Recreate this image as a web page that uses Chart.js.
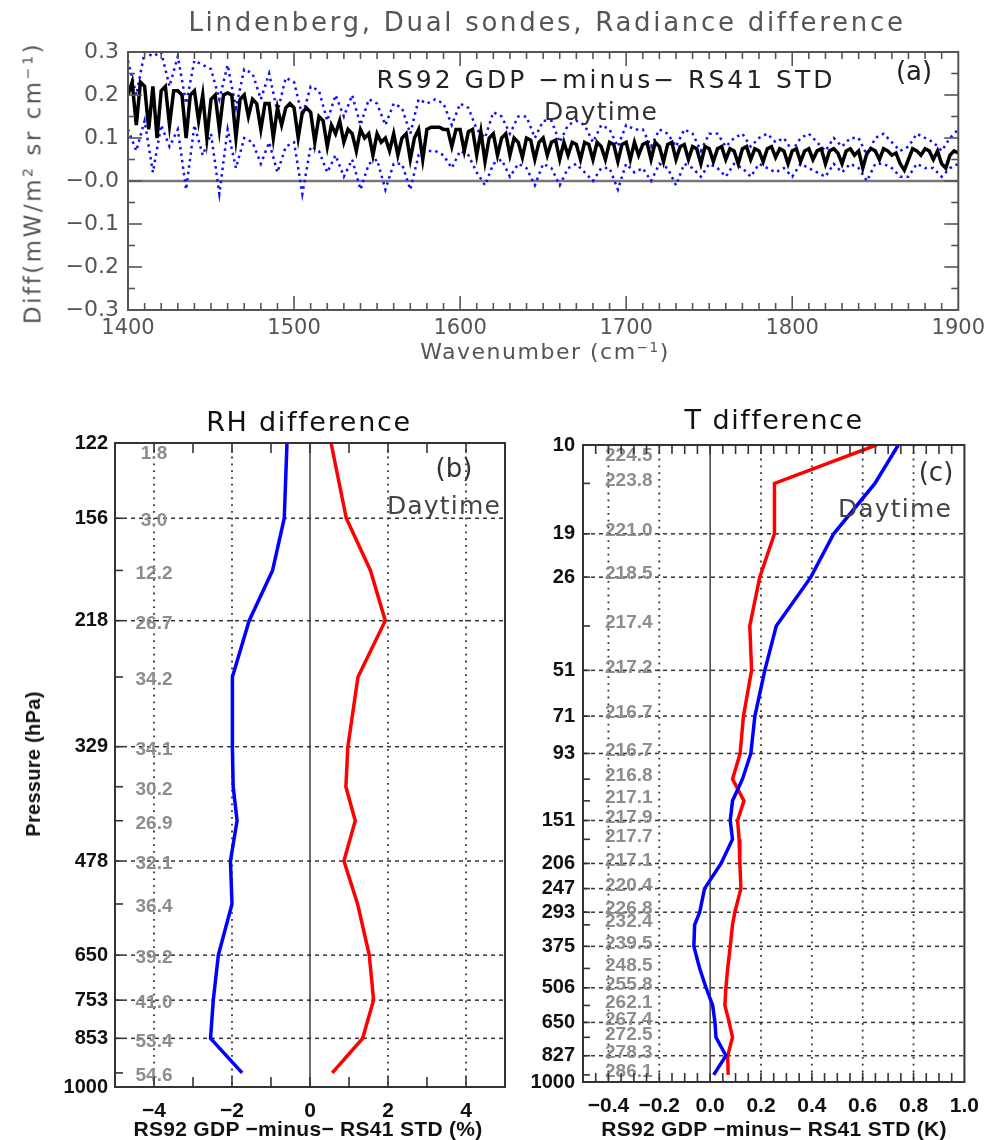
<!DOCTYPE html>
<html>
<head>
<meta charset="utf-8">
<script src="https://cdn.jsdelivr.net/npm/chart.js@4.4.1/dist/chart.umd.min.js"></script>
<style>
html,body{margin:0;padding:0;background:#fff;}
body{width:991px;height:1140px;position:relative;overflow:hidden;font-family:'DejaVu Sans',sans-serif;}
.box{position:absolute;}
.t{position:absolute;white-space:nowrap;transform:translate(-50%,-50%);line-height:1;}
.r{transform:translate(-50%,-50%) rotate(-90deg);}
.h{font-family:'DejaVu Sans',sans-serif;font-weight:normal;}
.b{font-family:'Liberation Sans',Arial,sans-serif;font-weight:bold;color:#111;}
sup{font-size:62%;vertical-align:0.55em;line-height:0;}
</style>
</head>
<body>
<div class="box" style="left:0;top:0;width:991px;height:370px"><canvas id="cA"></canvas></div>
<div class="box" style="left:0;top:380px;width:530px;height:760px"><canvas id="cB"></canvas></div>
<div class="box" style="left:530px;top:380px;width:461px;height:760px"><canvas id="cC"></canvas></div>

<div class="t h" style="left:547px;top:22px;font-size:26px;color:#555;letter-spacing:2.7px">Lindenberg, Dual sondes, Radiance difference</div>
<div class="t h" style="left:606px;top:79px;font-size:25px;color:#222;letter-spacing:3px">RS92 GDP &minus;minus&minus; RS41 STD</div>
<div class="t h" style="left:914px;top:71px;font-size:26px;color:#222">(a)</div>
<div class="t h" style="left:601px;top:111px;font-size:25px;color:#333;letter-spacing:1.2px">Daytime</div>
<div class="t h r" style="left:33px;top:183px;font-size:23px;color:#555;letter-spacing:2.5px">Diff(mW/m<sup>2</sup> sr cm<sup>&minus;1</sup>)</div>
<div class="t h" style="left:545px;top:352px;font-size:22px;color:#555;letter-spacing:1.5px">Wavenumber (cm<sup>&minus;1</sup>)</div>

<div class="t h" style="left:309px;top:421px;font-size:27px;color:#111;letter-spacing:1.7px">RH difference</div>
<div class="t h" style="left:454px;top:468px;font-size:26px;color:#333">(b)</div>
<div class="t h" style="left:444px;top:505px;font-size:25px;color:#444;letter-spacing:1.2px">Daytime</div>
<div class="t b r" style="left:33px;top:764px;font-size:20px;letter-spacing:0.3px">Pressure (hPa)</div>
<div class="t b" style="left:308px;top:1128px;font-size:21px;letter-spacing:0.3px">RS92 GDP &minus;minus&minus; RS41 STD (%)</div>

<div class="t h" style="left:774px;top:419px;font-size:27px;color:#111;letter-spacing:1.5px">T difference</div>
<div class="t h" style="left:936px;top:472px;font-size:26px;color:#333">(c)</div>
<div class="t h" style="left:895px;top:508px;font-size:25px;color:#444;letter-spacing:1.2px">Daytime</div>
<div class="t b" style="left:774px;top:1128px;font-size:21px;letter-spacing:0.3px">RS92 GDP &minus;minus&minus; RS41 STD (K)</div>

<script>
// ---------------- DATA ----------------
function seq(start, step, count){ const a=[]; for(let i=0;i<count;i++) a.push(+(start+step*i).toFixed(3)); return a; }

// Panel (a): wavenumber grids (cm-1)
const waveMean = seq(1400, 2.5, 201);
const waveStd = seq(1400, 5, 101);
// mean radiance difference (black)
const radMean = [
0.20,0.23,0.13,0.23,0.22,0.12,0.22,0.10,0.21,0.22,
0.13,0.21,0.21,0.20,0.10,0.20,0.21,0.14,0.20,0.10,
0.19,0.20,0.12,0.20,0.205,0.20,0.10,0.19,0.20,0.15,
0.19,0.18,0.12,0.18,0.18,0.10,0.17,0.13,0.17,0.18,
0.17,0.10,0.16,0.17,0.16,0.09,0.15,0.14,0.08,0.13,
0.11,0.14,0.09,0.12,0.11,0.07,0.12,0.10,0.11,0.06,
0.11,0.09,0.10,0.07,0.11,0.06,0.10,0.11,0.05,0.10,
0.12,0.05,0.12,0.125,0.125,0.125,0.12,0.12,0.08,0.12,
0.12,0.07,0.115,0.12,0.06,0.115,0.045,0.10,0.11,0.06,
0.10,0.11,0.06,0.10,0.09,0.055,0.10,0.095,0.05,0.09,
0.10,0.06,0.09,0.095,0.05,0.09,0.06,0.09,0.085,0.05,
0.09,0.085,0.05,0.09,0.08,0.05,0.09,0.085,0.045,0.085,
0.09,0.05,0.09,0.06,0.085,0.09,0.05,0.09,0.08,0.045,
0.085,0.09,0.05,0.08,0.085,0.05,0.08,0.075,0.04,0.08,
0.075,0.045,0.075,0.08,0.05,0.075,0.07,0.04,0.075,0.08,
0.05,0.075,0.07,0.045,0.075,0.08,0.055,0.075,0.07,0.04,
0.07,0.075,0.045,0.07,0.075,0.05,0.07,0.075,0.04,0.07,
0.075,0.065,0.04,0.07,0.075,0.06,0.07,0.03,0.065,0.075,
0.07,0.05,0.075,0.07,0.06,0.065,0.04,0.025,0.05,0.075,
0.07,0.06,0.075,0.07,0.05,0.07,0.04,0.03,0.06,0.07,
0.065];
// mean + std (blue dotted, upper)
const radUpper = [
0.28,0.20,0.30,0.29,0.30,0.22,0.29,0.18,0.28,0.27,
0.26,0.19,0.27,0.17,0.26,0.25,0.19,0.25,0.16,0.24,
0.23,0.15,0.22,0.21,0.14,0.20,0.15,0.20,0.13,0.19,
0.18,0.13,0.18,0.17,0.11,0.19,0.18,0.19,0.18,0.13,
0.18,0.17,0.12,0.10,0.16,0.15,0.11,0.15,0.15,0.10,
0.14,0.14,0.09,0.13,0.14,0.13,0.09,0.13,0.12,0.08,
0.13,0.12,0.12,0.08,0.12,0.11,0.08,0.12,0.11,0.07,
0.11,0.11,0.08,0.10,0.11,0.08,0.10,0.11,0.09,0.10,
0.07,0.10,0.11,0.09,0.07,0.10,0.08,0.10,0.10,0.06,
0.10,0.11,0.09,0.07,0.08,0.11,0.10,0.09,0.07,0.10,
0.12];
// mean - std (blue dotted, lower)
const radLower = [
0.12,0.07,0.14,0.02,0.13,0.08,0.12,-0.02,0.13,0.06,
0.11,-0.03,0.12,0.03,0.10,0.09,0.04,0.09,0.02,0.08,
0.09,-0.03,0.08,0.07,0.02,0.06,0.01,0.05,-0.02,0.04,
0.05,-0.02,0.04,0.04,-0.02,0.06,0.07,0.07,0.06,0.03,
0.07,0.06,0.02,-0.01,0.04,0.05,0.01,0.04,0.03,-0.01,
0.04,0.03,-0.01,0.03,0.04,0.02,0.00,0.03,0.03,-0.02,
0.04,0.02,0.03,0.00,0.04,0.03,-0.01,0.04,0.03,0.01,
0.04,0.03,0.01,0.04,0.03,0.01,0.04,0.03,0.02,0.03,
0.01,0.04,0.03,0.02,0.01,0.04,0.02,0.04,0.03,0.00,
0.04,0.04,0.03,0.01,0.01,0.04,0.03,0.03,0.01,0.03,
0.04];
const xTicksA = [1400,1500,1600,1700,1800,1900];
const yTicksA = [0.3,0.2,0.1,0,-0.1,-0.2,-0.3];
const yTickLabelsA = ['0.3','0.2','0.1','\u22120.0','\u22120.1','\u22120.2','\u22120.3'];

// Panel (b): RH difference profile
const rhLevels = [122,156,185,218,262,329,375,419,478,550,650,753,853,955];
const rhBlue   = [-0.59,-0.66,-0.96,-1.56,-1.99,-1.99,-1.97,-1.87,-2.04,-2.00,-2.35,-2.48,-2.55,-1.74];
const rhRed    = [0.54,0.93,1.55,1.93,1.23,0.97,0.92,1.16,0.87,1.22,1.52,1.63,1.35,0.57];
const rhMean   = ['1.8','3.0','12.2','26.7','34.2','34.1','30.2','26.9','32.1','36.4','39.2','41.0','53.4','54.6'];
const rhPressTicks = [122,156,218,329,478,650,753,853,1000];
const rhXTicks = [-4,-2,0,2,4];
const rhXTickLabels = ['\u22124','\u22122','0','2','4'];

// Panel (c): T difference profile
const tLevels = [10,13.2,19,26,37,51,71,93,112,131,151,173,206,247,293,321,375,440,506,575,650,724,827,950];
const tBlue = [0.74,0.648,0.486,0.396,0.26,0.215,0.176,0.16,0.127,0.088,0.079,0.088,0.043,-0.022,-0.041,-0.061,-0.064,-0.041,-0.016,0.01,0.019,0.023,0.062,0.014];
const tRed  = [0.654,0.253,0.253,0.195,0.156,0.163,0.131,0.118,0.088,0.133,0.108,0.114,0.117,0.121,0.097,0.088,0.079,0.069,0.062,0.058,0.075,0.088,0.069,0.071];
const tMean = ['224.5','223.8','221.0','218.5','217.4','217.2','216.7','216.7','216.8','217.1','217.9','217.7','217.1','220.4','226.8','232.4','239.5','248.5','255.8','262.1','267.4','272.5','278.3','286.1'];
const tPressTicks = [10,19,26,51,71,93,151,206,247,293,375,506,650,827,1000];
const tXTicks = [-0.4,-0.2,0,0.2,0.4,0.6,0.8,1.0];
const tXTickLabels = ['\u22120.4','\u22120.2','0.0','0.2','0.4','0.6','0.8','1.0'];

// ---------------- DRAWING HELPERS ----------------
const HERSHEY = "'DejaVu Sans', sans-serif";
const BOLD = "'Liberation Sans', Arial, sans-serif";

function seg(ctx,x1,y1,x2,y2,color,width,dash){
  ctx.beginPath(); ctx.setLineDash(dash||[]); ctx.strokeStyle=color; ctx.lineWidth=width;
  ctx.moveTo(x1,y1); ctx.lineTo(x2,y2); ctx.stroke();
}

function makePlugin(cfg){
  return {
    id: 'deco_'+cfg.name,
    beforeDatasetsDraw(chart){
      const ctx=chart.ctx, a=chart.chartArea, x=chart.scales.x, y=chart.scales.y;
      ctx.save();
      (cfg.hGrid||[]).forEach(v=>{ const p=y.getPixelForValue(v); seg(ctx,a.left,p,a.right,p,cfg.gridColor,1.5,[4,4]); });
      (cfg.vGrid||[]).forEach(v=>{ const p=x.getPixelForValue(v); seg(ctx,p,a.top,p,a.bottom,cfg.gridColor,1.8,[1.8,5]); });
      if (cfg.vZero!==undefined){ const p=x.getPixelForValue(cfg.vZero); seg(ctx,p,a.top,p,a.bottom,'#222',1.3,[]); }
      if (cfg.hZero!==undefined){ const p=y.getPixelForValue(cfg.hZero); seg(ctx,a.left,p,a.right,p,'#777',2.5,[]); }
      if (cfg.labels){
        ctx.setLineDash([]);
        ctx.font = 'bold 19px '+BOLD; ctx.fillStyle='#8d8d8d'; ctx.textAlign='center'; ctx.textBaseline='middle';
        const px = x.getPixelForValue(cfg.labelX);
        cfg.labelLevels.forEach((lv,i)=>{
          const py = Math.max(y.getPixelForValue(lv)+cfg.labelDy, a.top+11);
          ctx.fillText(cfg.labels[i], px, py);
        });
      }
      ctx.restore();
    },
    afterDatasetsDraw(chart){
      const ctx=chart.ctx, a=chart.chartArea, x=chart.scales.x, y=chart.scales.y;
      ctx.save();
      const c=cfg.frameColor;
      (cfg.xTicksTB||[]).forEach(t=>{ const p=x.getPixelForValue(t.v);
        seg(ctx,p,a.bottom,p,a.bottom-t.len,c,1.6,[]);
        if (cfg.topTicks) seg(ctx,p,a.top,p,a.top+t.len,c,1.6,[]); });
      (cfg.yTicksL||[]).forEach(t=>{ const p=y.getPixelForValue(t.v);
        seg(ctx,a.left,p,a.left+t.len,p,c,1.6,[]);
        if (cfg.rightTicks) seg(ctx,a.right,p,a.right-t.len,p,c,1.6,[]); });
      ctx.setLineDash([]); ctx.strokeStyle=c; ctx.lineWidth=2;
      ctx.strokeRect(a.left,a.top,a.right-a.left,a.bottom-a.top);
      ctx.restore();
    }
  };
}

// tick value lists
const aXMinor = seq(1410,10,49).map(v=>({v, len: (v%100===0)?14:7}));
const aYMinor = seq(-0.25,0.05,11).map(v=>({v, len: (Math.abs(Math.round(v*20))%2===0)?14:7}));
const bXTicks = seq(-4,1,9).map(v=>({v,len:10}));
const bYTicks = rhLevels.map(v=>({v,len:8}));
const cXTicks = seq(-0.45,0.05,29).map(v=>({v,len:9}));
const cYTicks = tLevels.map(v=>({v,len:7}));

const common = {responsive:true, maintainAspectRatio:false, animation:false, devicePixelRatio:1,
  plugins:{legend:{display:false}, tooltip:{enabled:false}}};

function lineSet(xs, ys, color, width, dash){
  return {data: xs.map((v,i)=>({x:v,y:ys[i]})), showLine:true, borderColor:color, borderWidth:width,
          borderDash:dash||[], pointRadius:0, tension:0, fill:false};
}

// ---------------- CHART A ----------------
new Chart(document.getElementById('cA'), {
  type:'scatter',
  data:{datasets:[
    lineSet(waveMean, radMean, '#000000', 3.5),
    lineSet(waveStd, radUpper, '#1010ff', 2.5, [2.5,4]),
    lineSet(waveStd, radLower, '#1010ff', 2.5, [2.5,4])
  ]},
  options:Object.assign({}, common, {
    layout:{padding:{top:52,right:31,left:0,bottom:0}},
    scales:{
      x:{type:'linear', min:1400, max:1900,
         afterBuildTicks:s=>{s.ticks=xTicksA.map(v=>({value:v}));},
         afterFit:s=>{s.height=60;},
         ticks:{callback:v=>String(v), font:{family:HERSHEY,size:21}, color:'#555', padding:6, maxRotation:0, autoSkip:false},
         grid:{display:false, drawTicks:false}, border:{display:false}},
      y:{type:'linear', min:-0.3, max:0.3,
         afterBuildTicks:s=>{s.ticks=yTicksA.map(v=>({value:v}));},
         afterFit:s=>{s.width=128;},
         ticks:{callback:(v,i)=>yTickLabelsA[i], font:{family:HERSHEY,size:22}, color:'#555', padding:9, autoSkip:false},
         grid:{display:false, drawTicks:false}, border:{display:false}}
    }
  }),
  plugins:[makePlugin({name:'a', frameColor:'#555', hZero:0, xTicksTB:aXMinor, topTicks:true, yTicksL:aYMinor, rightTicks:true})]
});

// ---------------- CHART B ----------------
new Chart(document.getElementById('cB'), {
  type:'scatter',
  data:{datasets:[
    lineSet(rhBlue, rhLevels, '#0000ff', 3.5),
    lineSet(rhRed, rhLevels, '#ff0000', 3.5)
  ]},
  options:Object.assign({}, common, {
    layout:{padding:{top:63,right:25,left:0,bottom:0}},
    scales:{
      x:{type:'linear', min:-5, max:5,
         afterBuildTicks:s=>{s.ticks=rhXTicks.map(v=>({value:v}));},
         afterFit:s=>{s.height=53;},
         ticks:{callback:(v,i)=>rhXTickLabels[i], font:{family:BOLD,size:21,weight:'bold'}, color:'#111', padding:12, maxRotation:0, autoSkip:false},
         grid:{display:false, drawTicks:false}, border:{display:false}},
      y:{type:'logarithmic', min:122, max:1000, reverse:true,
         afterBuildTicks:s=>{s.ticks=rhPressTicks.map(v=>({value:v}));},
         afterFit:s=>{s.width=115;},
         ticks:{callback:v=>String(v), font:{family:BOLD,size:20,weight:'bold'}, color:'#111', padding:7, autoSkip:false},
         grid:{display:false, drawTicks:false}, border:{display:false}}
    }
  }),
  plugins:[makePlugin({name:'b', frameColor:'#333', gridColor:'#333',
    hGrid:[156,218,329,478,650,753,853], vGrid:[-4,-2,2,4], vZero:0,
    labels:rhMean, labelLevels:rhLevels, labelX:-4, labelDy:3,
    xTicksTB:bXTicks, topTicks:true, yTicksL:bYTicks, rightTicks:false})]
});

// ---------------- CHART C ----------------
new Chart(document.getElementById('cC'), {
  type:'scatter',
  data:{datasets:[
    lineSet(tBlue, tLevels, '#0000ff', 3.5),
    lineSet(tRed, tLevels, '#ff0000', 3.5)
  ]},
  options:Object.assign({}, common, {
    layout:{padding:{top:65,right:24,left:0,bottom:0}},
    scales:{
      x:{type:'linear', min:-0.5, max:1.0,
         afterBuildTicks:s=>{s.ticks=tXTicks.map(v=>({value:v}));},
         afterFit:s=>{s.height=58;},
         ticks:{callback:(v,i)=>tXTickLabels[i], font:{family:BOLD,size:21,weight:'bold'}, color:'#111', padding:12, maxRotation:0, autoSkip:false},
         grid:{display:false, drawTicks:false}, border:{display:false}},
      y:{type:'logarithmic', min:10, max:1000, reverse:true,
         afterBuildTicks:s=>{s.ticks=tPressTicks.map(v=>({value:v}));},
         afterFit:s=>{s.width=53;},
         ticks:{callback:v=>String(v), font:{family:BOLD,size:20,weight:'bold'}, color:'#111', padding:8, autoSkip:false},
         grid:{display:false, drawTicks:false}, border:{display:false}}
    }
  }),
  plugins:[makePlugin({name:'c', frameColor:'#333', gridColor:'#333',
    hGrid:[19,26,51,71,93,151,206,247,293,375,506,650,827], vGrid:[-0.4,-0.2,0.2,0.4,0.6,0.8], vZero:0,
    labels:tMean, labelLevels:tLevels, labelX:-0.32, labelDy:-3,
    xTicksTB:cXTicks, topTicks:true, yTicksL:cYTicks, rightTicks:false})]
});
</script>
</body>
</html>
